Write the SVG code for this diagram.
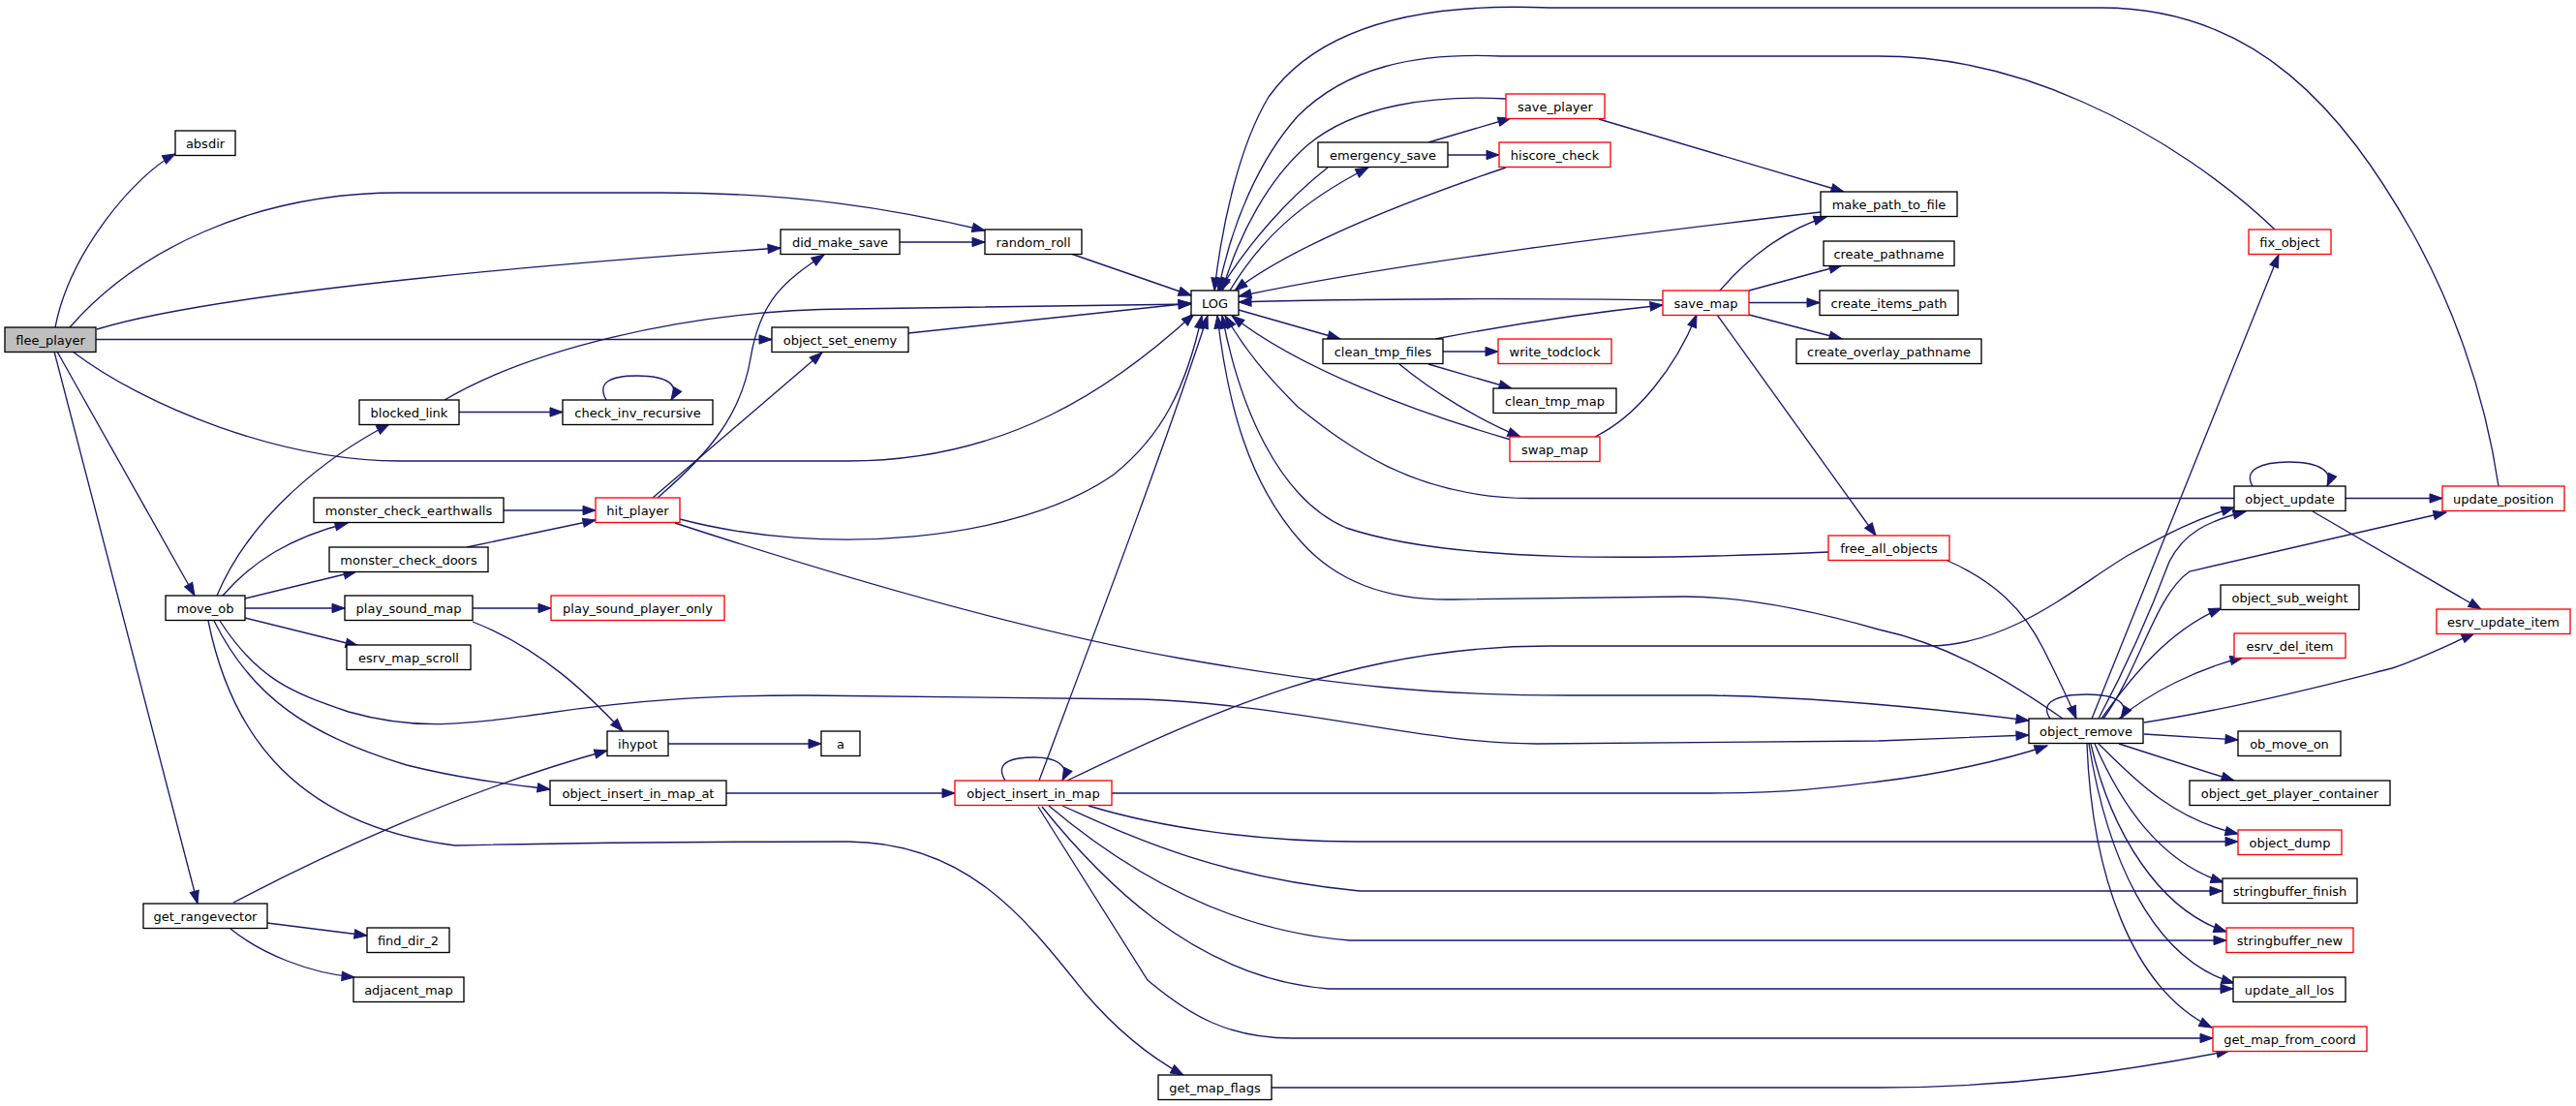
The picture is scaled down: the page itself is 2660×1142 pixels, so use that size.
<svg xmlns="http://www.w3.org/2000/svg" width="2660" height="1142" viewBox="0 0 2660 1142">
<style>
.n rect{fill:#fff;stroke:#000;stroke-width:1.33}
.n.r rect{stroke:#f00}
.n.g rect{fill:#bfbfbf}
.n text{font-family:"DejaVu Sans","Liberation Sans",sans-serif;font-size:13px;text-anchor:middle;fill:#000}
#edges path{fill:none;stroke:#191970;stroke-width:1.33;marker-end:url(#ah)}
</style>
<defs>
<marker id="ah" markerUnits="userSpaceOnUse" markerWidth="14" markerHeight="10" refX="13" refY="4.65" orient="auto" overflow="visible">
<path d="M0,0 L13,4.65 L0,9.3 z" fill="#191970" stroke="#191970" stroke-width="1"/>
</marker>
</defs>
<rect width="2660" height="1142" fill="#fff"/>
<g id="edges">
<path d="M57,338 C72,260 140,180 181,159"/>
<path d="M72,338 C140,260 260,199 413,199 L683,199 C820,199 920,215 1017,238"/>
<path d="M100,340 C230,300 600,270 806,256"/>
<path d="M99,350.5 L797,350.5"/>
<path d="M75,363 C150,420 290,476 413,476 L876,476 C1040,476 1150,400 1233,324"/>
<path d="M59,363 L201,615"/>
<path d="M56,363 L204,933"/>
<path d="M929,250 L1017,250"/>
<path d="M1106,262 L1230,305"/>
<path d="M938,344 L1230,313"/>
<path d="M459,413 C540,365 700,320 876,319 L1230,314"/>
<path d="M474,425.5 L581,425.5"/>
<path d="M626,413 C616,395 630,388 658,388 C690,388 702,398 693,413"/>
<path d="M224,615 C260,530 340,470 402,438"/>
<path d="M230,615 C260,580 300,555 359,540"/>
<path d="M253,618 L368,590"/>
<path d="M253,628 L356,628"/>
<path d="M253,638 L370,667"/>
<path d="M227,641 C265,700 300,715 360,735 C430,755 480,748 560,737 C660,722 740,718 830,718 L1180,722 C1340,728 1470,768 1587,768 L1940,765 L2095,759"/>
<path d="M221,641 C260,720 320,760 420,790 C480,805 530,810 568,815"/>
<path d="M215,641 C235,740 290,850 470,873 C600,870 780,869 876,869 C1000,870 1060,950 1120,1025 C1150,1060 1185,1090 1222,1110"/>
<path d="M241,932 C330,885 480,815 627,775"/>
<path d="M276,953 L379,966"/>
<path d="M238,959 C270,985 320,1005 366,1009"/>
<path d="M488,628 L569,628"/>
<path d="M488,642 C560,670 610,720 643,755"/>
<path d="M690,768 L848,768"/>
<path d="M520,527 L615,527"/>
<path d="M482,565 L615,537"/>
<path d="M679,514 C730,470 765,430 775,370 C785,310 810,290 851,263"/>
<path d="M674,514 L849,364"/>
<path d="M702,536 C850,575 1050,560 1150,490 C1200,450 1225,400 1241,326"/>
<path d="M697,540 C850,590 1050,650 1220,680 C1380,708 1480,718 1620,718 L1766,718 C1880,720 2000,732 2095,744"/>
<path d="M750,819 L986,819"/>
<path d="M1038,806 C1025,785 1050,782 1068,782 C1090,782 1105,790 1097,806"/>
<path d="M1073,806 C1120,680 1200,470 1247,326"/>
<path d="M1102,806 C1250,735 1400,667 1600,667 L1990,667 C2080,667 2150,600 2200,572 C2240,550 2270,535 2307,524"/>
<path d="M1148,819 L1766,819 C1850,819 1900,812 1940,807 C2000,800 2070,785 2114,770"/>
<path d="M1124,832 C1200,855 1300,869 1400,869 L2311,869"/>
<path d="M1097,832 C1160,860 1250,905 1404,920 L2295,920"/>
<path d="M1083,832 C1140,880 1250,960 1394,971 L2299,971"/>
<path d="M1076,833 C1130,900 1230,1010 1372,1021 L2306,1021"/>
<path d="M1072,833 L1185,1012 C1230,1050 1270,1072 1335,1072 L2285,1072"/>
<path d="M1313,1123 L1940,1123 C2080,1123 2200,1105 2302,1085"/>
<path d="M1270,300 C1300,250 1340,210 1413,173"/>
<path d="M1371,173 C1330,205 1290,250 1259,300"/>
<path d="M1475,147 L1560,122"/>
<path d="M1495,160 L1548,160"/>
<path d="M1555,102 C1480,98 1400,108 1350,150 C1310,185 1280,240 1262,300"/>
<path d="M1651,123 L1904,198"/>
<path d="M1555,173 C1460,205 1340,250 1275,300"/>
<path d="M1880,219 C1700,240 1450,270 1279,306"/>
<path d="M1717,310 C1600,308 1400,308 1279,312"/>
<path d="M1776,300 C1810,260 1850,235 1886,224"/>
<path d="M1806,300 L1902,274"/>
<path d="M1806,312.5 L1879,312.5"/>
<path d="M1806,325 L1902,350"/>
<path d="M1773,325 L1937,553"/>
<path d="M1279,320 L1384,350"/>
<path d="M1482,350 C1560,335 1640,323 1717,315"/>
<path d="M1490,363 L1547,363"/>
<path d="M1475,376 L1561,401"/>
<path d="M1445,376 C1480,405 1530,435 1570,451"/>
<path d="M1560,454 C1460,425 1340,380 1272,326"/>
<path d="M1647,451 C1690,430 1730,380 1752,325"/>
<path d="M2326,502 C2316,485 2335,477 2364,477 C2395,477 2410,487 2403,502"/>
<path d="M2307,514.5 L1580,514.5 C1460,514 1390,460 1340,420 C1305,385 1285,360 1265,326"/>
<path d="M2422,514.5 L2522,514.5"/>
<path d="M2388,528 L2562,629"/>
<path d="M2580,502 C2565,400 2530,310 2491,240 C2420,115 2330,8 2170,8 L1600,8 C1460,2 1360,30 1310,100 C1280,150 1262,230 1254,300"/>
<path d="M2349,237 C2300,190 2230,140 2150,105 C2090,78 2020,58 1940,58 L1550,58 C1460,54 1390,70 1340,120 C1300,165 1272,230 1258,300"/>
<path d="M1888,570 C1700,578 1500,582 1390,545 C1320,515 1280,420 1262,326"/>
<path d="M2130,742 C2070,700 2010,665 1940,650 C1870,630 1800,616 1740,616 L1500,619 C1430,620 1380,600 1344,560 C1290,500 1268,420 1257,326"/>
<path d="M2009,578 C2060,600 2090,630 2110,670 C2125,700 2135,720 2144,742"/>
<path d="M2117,742 C2105,725 2125,717 2155,717 C2185,717 2200,726 2190,742"/>
<path d="M2160,742 L2353,263"/>
<path d="M2167,742 C2200,680 2225,620 2240,580 C2255,550 2280,538 2319,528"/>
<path d="M2172,742 C2210,690 2225,615 2261,590 L2526,529"/>
<path d="M2170,742 C2200,700 2240,650 2294,628"/>
<path d="M2188,742 C2220,715 2270,690 2316,679"/>
<path d="M2214,746 C2320,730 2430,700 2470,690 C2500,680 2530,665 2555,654"/>
<path d="M2214,758 L2311,764"/>
<path d="M2188,768 L2307,806"/>
<path d="M2167,768 C2200,800 2240,845 2311,861"/>
<path d="M2163,768 C2190,830 2230,890 2296,911"/>
<path d="M2159,768 C2180,860 2230,940 2299,962"/>
<path d="M2157,768 C2175,880 2220,990 2307,1015"/>
<path d="M2155,768 C2160,900 2200,1020 2284,1061"/>
</g>
<g id="flee_player" class="n g"><rect x="5" y="338" width="94" height="25.5"/><text x="52" y="355.5">flee_player</text></g>
<g id="absdir" class="n"><rect x="181" y="135" width="62" height="25.5"/><text x="212" y="152.5">absdir</text></g>
<g id="did_make_save" class="n"><rect x="806" y="237" width="123" height="25.5"/><text x="867.5" y="254.5">did_make_save</text></g>
<g id="random_roll" class="n"><rect x="1017" y="237" width="100" height="25.5"/><text x="1067" y="254.5">random_roll</text></g>
<g id="object_set_enemy" class="n"><rect x="797" y="338" width="141" height="25.5"/><text x="867.5" y="355.5">object_set_enemy</text></g>
<g id="LOG" class="n"><rect x="1230" y="300" width="49" height="25.5"/><text x="1254.5" y="317.5">LOG</text></g>
<g id="blocked_link" class="n"><rect x="371" y="413" width="103" height="25.5"/><text x="422.5" y="430.5">blocked_link</text></g>
<g id="check_inv_recursive" class="n"><rect x="581" y="413" width="155" height="25.5"/><text x="658.5" y="430.5">check_inv_recursive</text></g>
<g id="monster_check_earthwalls" class="n"><rect x="324" y="514" width="196" height="25.5"/><text x="422" y="531.5">monster_check_earthwalls</text></g>
<g id="hit_player" class="n r"><rect x="615" y="514" width="87" height="25.5"/><text x="658.5" y="531.5">hit_player</text></g>
<g id="monster_check_doors" class="n"><rect x="340" y="565" width="164" height="25.5"/><text x="422" y="582.5">monster_check_doors</text></g>
<g id="move_ob" class="n"><rect x="171" y="615" width="82" height="25.5"/><text x="212" y="632.5">move_ob</text></g>
<g id="play_sound_map" class="n"><rect x="356" y="615" width="132" height="25.5"/><text x="422" y="632.5">play_sound_map</text></g>
<g id="play_sound_player_only" class="n r"><rect x="569" y="615" width="179" height="25.5"/><text x="658.5" y="632.5">play_sound_player_only</text></g>
<g id="esrv_map_scroll" class="n"><rect x="358" y="666" width="128" height="25.5"/><text x="422" y="683.5">esrv_map_scroll</text></g>
<g id="ihypot" class="n"><rect x="627" y="755" width="63" height="25.5"/><text x="658.5" y="772.5">ihypot</text></g>
<g id="a" class="n"><rect x="848" y="755" width="40" height="25.5"/><text x="868" y="772.5">a</text></g>
<g id="object_insert_in_map_at" class="n"><rect x="568" y="806" width="182" height="25.5"/><text x="659" y="823.5">object_insert_in_map_at</text></g>
<g id="object_insert_in_map" class="n r"><rect x="986" y="806" width="162" height="25.5"/><text x="1067" y="823.5">object_insert_in_map</text></g>
<g id="get_rangevector" class="n"><rect x="148" y="933" width="128" height="25.5"/><text x="212" y="950.5">get_rangevector</text></g>
<g id="find_dir_2" class="n"><rect x="379" y="958" width="85" height="25.5"/><text x="421.5" y="975.5">find_dir_2</text></g>
<g id="adjacent_map" class="n"><rect x="365" y="1009" width="114" height="25.5"/><text x="422" y="1026.5">adjacent_map</text></g>
<g id="get_map_flags" class="n"><rect x="1196" y="1110" width="117" height="25.5"/><text x="1254.5" y="1127.5">get_map_flags</text></g>
<g id="emergency_save" class="n"><rect x="1361" y="147" width="134" height="25.5"/><text x="1428" y="164.5">emergency_save</text></g>
<g id="save_player" class="n r"><rect x="1555" y="97" width="102" height="25.5"/><text x="1606" y="114.5">save_player</text></g>
<g id="hiscore_check" class="n r"><rect x="1548" y="147" width="115" height="25.5"/><text x="1605.5" y="164.5">hiscore_check</text></g>
<g id="make_path_to_file" class="n"><rect x="1880" y="198" width="141" height="25.5"/><text x="1950.5" y="215.5">make_path_to_file</text></g>
<g id="create_pathname" class="n"><rect x="1883" y="249" width="135" height="25.5"/><text x="1950.5" y="266.5">create_pathname</text></g>
<g id="save_map" class="n r"><rect x="1717" y="300" width="89" height="25.5"/><text x="1761.5" y="317.5">save_map</text></g>
<g id="create_items_path" class="n"><rect x="1879" y="300" width="143" height="25.5"/><text x="1950.5" y="317.5">create_items_path</text></g>
<g id="create_overlay_pathname" class="n"><rect x="1855" y="350" width="191" height="25.5"/><text x="1950.5" y="367.5">create_overlay_pathname</text></g>
<g id="clean_tmp_files" class="n"><rect x="1366" y="350" width="124" height="25.5"/><text x="1428" y="367.5">clean_tmp_files</text></g>
<g id="write_todclock" class="n r"><rect x="1547" y="350" width="117" height="25.5"/><text x="1605.5" y="367.5">write_todclock</text></g>
<g id="clean_tmp_map" class="n"><rect x="1542" y="401" width="127" height="25.5"/><text x="1605.5" y="418.5">clean_tmp_map</text></g>
<g id="swap_map" class="n r"><rect x="1559" y="451" width="93" height="25.5"/><text x="1605.5" y="468.5">swap_map</text></g>
<g id="free_all_objects" class="n r"><rect x="1888" y="553" width="125" height="25.5"/><text x="1950.5" y="570.5">free_all_objects</text></g>
<g id="fix_object" class="n r"><rect x="2322" y="237" width="85" height="25.5"/><text x="2364.5" y="254.5">fix_object</text></g>
<g id="object_update" class="n"><rect x="2307" y="502" width="115" height="25.5"/><text x="2364.5" y="519.5">object_update</text></g>
<g id="update_position" class="n r"><rect x="2522" y="502" width="126" height="25.5"/><text x="2585" y="519.5">update_position</text></g>
<g id="object_sub_weight" class="n"><rect x="2293" y="604" width="143" height="25.5"/><text x="2364.5" y="621.5">object_sub_weight</text></g>
<g id="esrv_update_item" class="n r"><rect x="2516" y="629" width="138" height="25.5"/><text x="2585" y="646.5">esrv_update_item</text></g>
<g id="esrv_del_item" class="n r"><rect x="2307" y="654" width="115" height="25.5"/><text x="2364.5" y="671.5">esrv_del_item</text></g>
<g id="object_remove" class="n"><rect x="2095" y="742" width="118" height="25.5"/><text x="2154" y="759.5">object_remove</text></g>
<g id="ob_move_on" class="n"><rect x="2311" y="755" width="106" height="25.5"/><text x="2364" y="772.5">ob_move_on</text></g>
<g id="object_get_player_container" class="n"><rect x="2261" y="806" width="207" height="25.5"/><text x="2364.5" y="823.5">object_get_player_container</text></g>
<g id="object_dump" class="n r"><rect x="2311" y="857" width="107" height="25.5"/><text x="2364.5" y="874.5">object_dump</text></g>
<g id="stringbuffer_finish" class="n"><rect x="2295" y="907" width="139" height="25.5"/><text x="2364.5" y="924.5">stringbuffer_finish</text></g>
<g id="stringbuffer_new" class="n r"><rect x="2299" y="958" width="131" height="25.5"/><text x="2364.5" y="975.5">stringbuffer_new</text></g>
<g id="update_all_los" class="n"><rect x="2306" y="1009" width="116" height="25.5"/><text x="2364" y="1026.5">update_all_los</text></g>
<g id="get_map_from_coord" class="n r"><rect x="2285" y="1060" width="159" height="25.5"/><text x="2364.5" y="1077.5">get_map_from_coord</text></g>
</svg>
